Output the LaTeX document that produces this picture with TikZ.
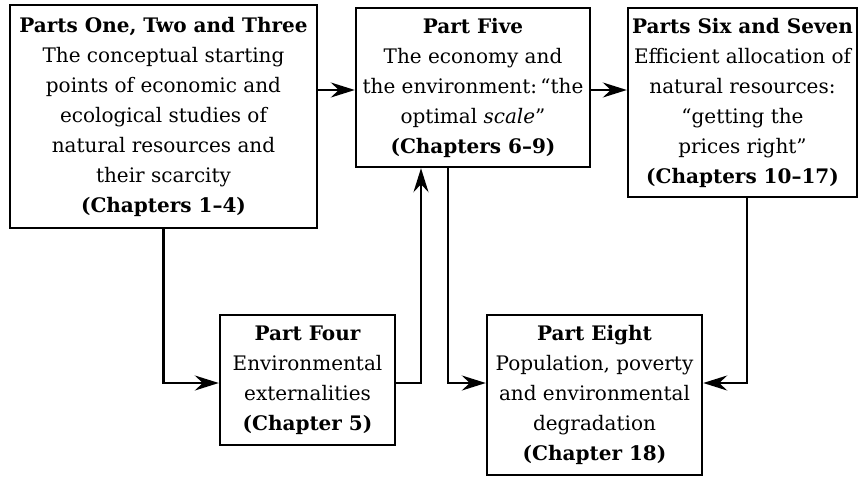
\documentclass[tikz,border=0pt]{standalone}
\usepackage{fontspec}
\setmainfont{DejaVu Serif}
\usetikzlibrary{arrows.meta}
\newcommand{\hd}[1]{{\fontsize{20}{30}\selectfont\bfseries #1}}
\begin{document}
\begin{tikzpicture}[x=1pt,y=1pt,
  box/.style={draw, line width=2.4pt, align=center, inner sep=0pt,
    font=\fontsize{20}{30}\selectfont},
  conn/.style={line width=2.4pt, -{Stealth[length=24pt,width=15pt,inset=8pt]}}]
\useasboundingbox (0,0) rectangle (859,-477);
\node[box, minimum width=307, minimum height=223] (b1) at (163.5,-116.5)
  {\hd{Parts One, Two and Three}\\The conceptual starting\\points of economic and\\ecological studies of\\natural resources and\\their scarcity\\\hd{(Chapters 1–4)}};
\node[box, minimum width=234, minimum height=159] (b5) at (473,-87.5)
  {\hd{Part Five}\\The economy and\\the environment:\,“the\\optimal \textit{scale}”\\\hd{(Chapters 6–9)}};
\node[box, minimum width=229, minimum height=189] (b67) at (742.5,-102.5)
  {\hd{Parts Six and Seven}\\Efficient allocation of\\natural resources:\\“getting the\\prices right”\\\hd{(Chapters 10–17)}};
\node[box, minimum width=175, minimum height=130] (b4) at (307.5,-380)
  {\hd{Part Four}\\Environmental\\externalities\\\hd{(Chapter 5)}};
\node[box, minimum width=215, minimum height=160] (b8) at (594.5,-395)
  {\hd{Part Eight}\\Population, poverty\\and environmental\\degradation\\\hd{(Chapter 18)}};
\draw[conn] ([yshift=26.5]b1.east) -- ([yshift=-2.5]b5.west);
\draw[conn] ([yshift=-2.5]b5.east) -- ([yshift=12.5]b67.west);
\draw[conn] (b1.south) |- ([yshift=-3]b4.west);
\draw[conn] ([yshift=-3]b4.east) -| ([xshift=-52]b5.south);
\draw[conn] ([xshift=-25]b5.south) |- ([yshift=12]b8.west);
\draw[conn] ([xshift=4.5]b67.south) |- ([yshift=12]b8.east);
\end{tikzpicture}
\end{document}
